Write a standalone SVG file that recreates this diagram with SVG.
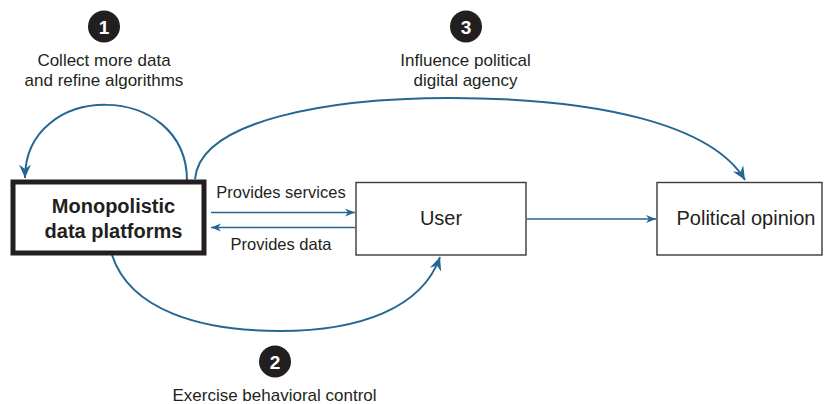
<svg xmlns="http://www.w3.org/2000/svg" width="824" height="404" viewBox="0 0 824 404">
<style>
  text { font-family: "Liberation Sans", Arial, sans-serif; fill: #231f20; text-anchor: middle; }
  .lbl { font-size: 17px; }
  .edge { font-size: 16.5px; }
  .node { font-size: 20px; }
  .bold { font-size: 20px; font-weight: bold; }
  .num { font-size: 19px; font-weight: bold; fill: #ffffff; }
  .conn { fill: none; stroke: #246694; }
  .curve { stroke-width: 2; }
  .straight { stroke-width: 1.6; }
  .badge { fill: #231f20; }
</style>
<defs>
  <marker id="big" markerUnits="userSpaceOnUse" viewBox="-14 -7 15 14" markerWidth="15" markerHeight="14" refX="0" refY="0" orient="auto">
    <path d="M0,0 L-13.5,-6 L-9,0 L-13.5,6 Z" fill="#246694"/>
  </marker>
  <marker id="small" markerUnits="userSpaceOnUse" viewBox="-11 -5 12 10" markerWidth="12" markerHeight="10" refX="0" refY="0" orient="auto">
    <path d="M0,0 L-10,-4 L-7,0 L-10,4 Z" fill="#246694"/>
  </marker>
</defs>

<g id="connectors">
  <path class="conn curve" d="M187,181 C187,80 25,80 25,178" marker-end="url(#big)"/>
  <path class="conn curve" d="M195,179 C200,120 330,98 450,98 C600,98 712,125 745,180" marker-end="url(#big)"/>
  <path class="conn curve" d="M112,255 C130,310 200,331 280,331 C360,331 422,308 440,257" marker-end="url(#big)"/>
  <path class="conn straight" d="M211,212.5 L355,212.5" marker-end="url(#small)"/>
  <path class="conn straight" d="M355,227.5 L211,227.5" marker-end="url(#small)"/>
  <path class="conn straight" d="M527,219 L656,219" marker-end="url(#small)"/>
  <text class="edge" x="281" y="198">Provides services</text>
  <text class="edge" x="281" y="250">Provides data</text>
</g>

<g id="platforms">
  <rect x="13" y="182" width="191" height="71" fill="#ffffff" stroke="#231f20" stroke-width="5"/>
  <text class="bold" x="113.5" y="213">Monopolistic</text>
  <text class="bold" x="113.5" y="238">data platforms</text>
</g>

<g id="user">
  <rect x="356" y="182.5" width="170" height="72.5" fill="#ffffff" stroke="#3a3a3a" stroke-width="1.4"/>
  <text class="node" x="441" y="225">User</text>
</g>

<g id="political">
  <rect x="657" y="182.5" width="165" height="72.5" fill="#ffffff" stroke="#3a3a3a" stroke-width="1.4"/>
  <text class="node" x="746" y="225">Political opinion</text>
</g>

<g id="step1">
  <circle class="badge" cx="104" cy="26.5" r="16"/>
  <text class="num" x="104" y="33.5">1</text>
  <text class="lbl" x="104" y="66">Collect more data</text>
  <text class="lbl" x="104" y="86">and refine algorithms</text>
</g>

<g id="step2">
  <circle class="badge" cx="275" cy="361.5" r="16"/>
  <text class="num" x="275" y="368.5">2</text>
  <text class="lbl" x="274.5" y="401">Exercise behavioral control</text>
</g>

<g id="step3">
  <circle class="badge" cx="466" cy="26.5" r="16"/>
  <text class="num" x="466" y="33.5">3</text>
  <text class="lbl" x="465.5" y="66">Influence political</text>
  <text class="lbl" x="465.5" y="86">digital agency</text>
</g>
</svg>
